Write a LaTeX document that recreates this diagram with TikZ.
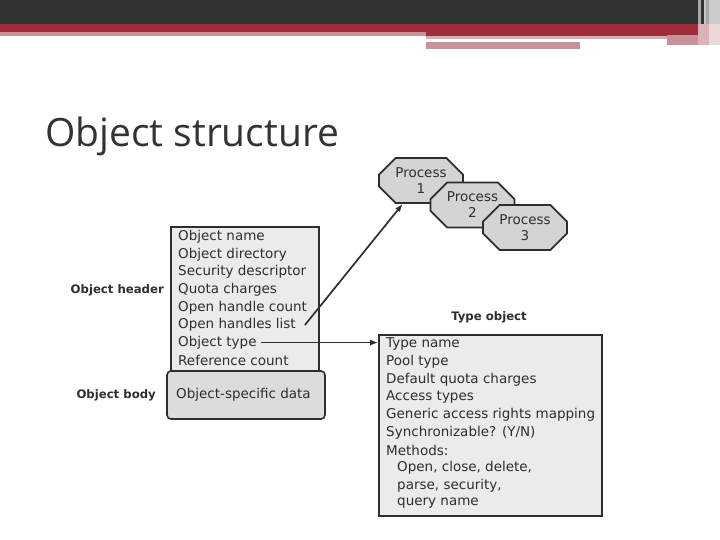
\documentclass[tikz,border=0pt]{standalone}
\usepackage{fontspec}
\setmainfont{DejaVu Sans}
\newfontfamily\titlefont{Open Sans}
\usetikzlibrary{arrows.meta,shapes.misc}
\definecolor{ink}{HTML}{2E2E2E}
\definecolor{barbg}{HTML}{333333}
\definecolor{barred}{HTML}{A02B3B}
\definecolor{barpink}{HTML}{CA9199}
\definecolor{boxfill}{HTML}{EBEBEB}
\definecolor{bodyfill}{HTML}{DCDCDC}
\definecolor{procfill}{HTML}{D4D4D4}

\begin{document}
\begin{tikzpicture}[x=1pt, y=-1pt, font=\fontsize{13.5}{16}\selectfont, text=ink,
    rowtext/.style={anchor=west, inner sep=1pt},
    sidelabel/.style={anchor=east, inner sep=1pt, font=\fontsize{11.7}{14}\selectfont\bfseries},
    framebox/.style={draw=ink, line width=1.6pt, fill=boxfill, inner sep=0pt},
    procbox/.style={chamfered rectangle, chamfered rectangle xsep=16pt, draw=ink, line width=1.8pt,
      fill=procfill, minimum width=84pt, minimum height=45pt, inner sep=0pt, align=center,
      font=\fontsize{13.5}{16}\selectfont},
    link/.style={-{Latex[length=8pt,width=6pt]}, line width=1.7pt, draw=ink}]
  \useasboundingbox (0,0) rectangle (720,540);
  \fill[white] (0,0) rectangle (720,540);

  % slide banner
  \fill[barbg] (0,0) rectangle (720,24);
  \fill[barred] (0,24) rectangle (698,32);
  \fill[barpink] (0,32) rectangle (426,36);
  \fill[barred] (426,32) rectangle (698,36);
  \fill[barpink!75!white] (426,36) rectangle (667,39);
  \fill[barpink] (426,42) rectangle (580,49);
  \fill[barpink] (667,35) rectangle (698,45);
  \fill[gray!70] (698,0) rectangle (701,24);
  \fill[gray!45] (704,0) rectangle (706,24);
  \fill[gray!70] (706,0) rectangle (709,24);
  \fill[gray!40] (709,0) rectangle (720,24);
  \fill[barpink!70!white] (698,24) rectangle (709,45);
  \fill[barpink!35!white] (709,24) rectangle (720,45);

  \node[anchor=base west, inner sep=0pt, text=barbg, font=\titlefont\fontsize{39}{41}\selectfont]
    (title) at (45,147) {Object structure};

  % object header and body
  \node[framebox, minimum width=148pt, minimum height=145pt] (hdr) at (245,299.5) {};
  \foreach \t [count=\i] in {Object name, Object directory, Security descriptor, Quota charges,
      Open handle count, Open handles list, Object type, Reference count}
    \node[rowtext] (h\i) at (177,{219.4+17.6*\i}) {\t};
  \node[framebox, fill=bodyfill, rounded corners=4pt, minimum width=158pt, minimum height=48pt]
    (body) at (246,395) {};
  \node[rowtext] (bodytxt) at (175,395) {Object-specific data};
  \node[sidelabel] (lhead) at (165,290) {Object header};
  \node[sidelabel] (lbody) at (157,395) {Object body};

  % type object
  \node[anchor=center, inner sep=1pt, font=\fontsize{11.7}{14}\selectfont\bfseries]
    (ltype) at (489,317) {Type object};
  \node[framebox, minimum width=223pt, minimum height=181pt] (tbox) at (490.5,425.5) {};
  \foreach \x/\t [count=\i] in {386/Type name, 386/Pool type, 386/Default quota charges,
      386/Access types, 386/Generic access rights mapping, 386/{Synchronizable? (Y/N)},
      386/Methods:, 397/{Open, close, delete,}, 397/{parse, security,}, 397/query name}
    \node[rowtext] (t\i) at (\x-1,{326.3+17.7*\i}) {\t};

  % processes
  \foreach \n/\cx/\cy in {1/421/180.5, 2/472.5/205, 3/525/227.5}
    \node[procbox] (p\n) at (\cx,\cy) {Process\\\n};

  \coordinate (hend) at ([xshift=8pt]h6.east);
  \draw[link] (hend) -- (p1.232);
  \draw[link] ([xshift=3pt]h7.east) -- (h7.east -| tbox.west);
\end{tikzpicture}
\end{document}
